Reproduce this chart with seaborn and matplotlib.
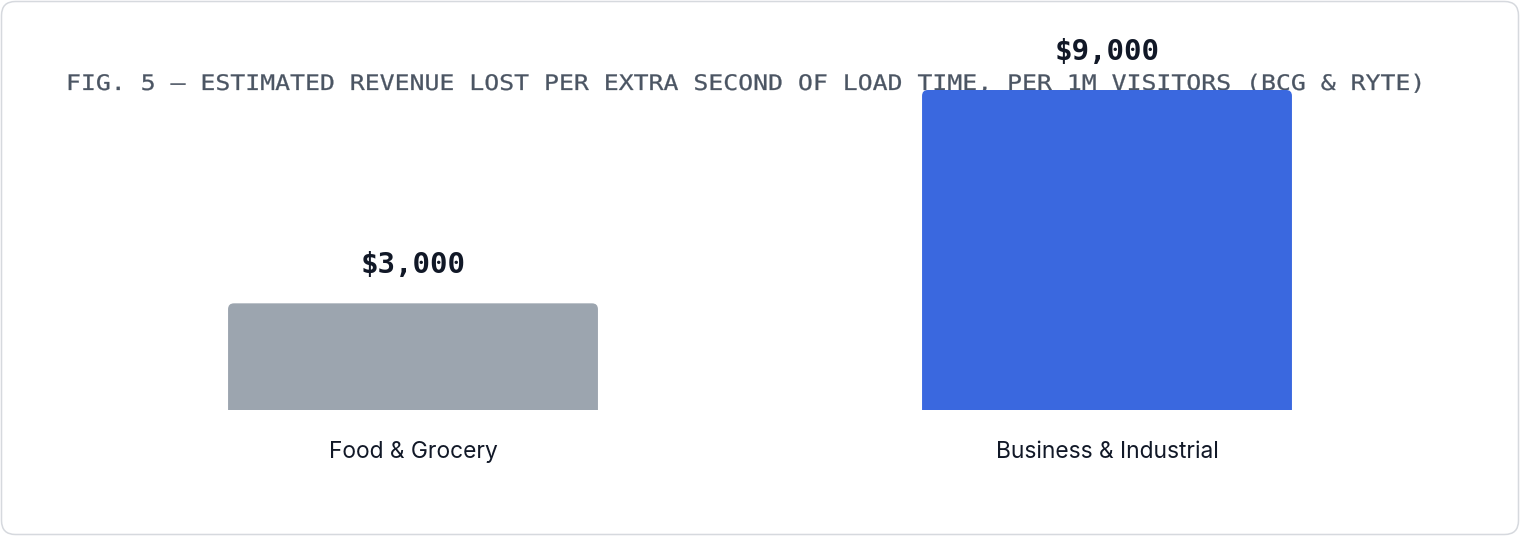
import matplotlib
matplotlib.use("Agg")
import matplotlib.pyplot as plt
import matplotlib.transforms as mtransforms
import matplotlib.patheffects as pe
from matplotlib.patches import FancyBboxPatch
import pandas as pd
import seaborn as sns

# ── Data ──────────────────────────────────────────────────────────────────────
categories = ["Food & Grocery", "Business & Industrial"]
revenue_lost = [3000, 9000]
value_labels = ["$3,000", "$9,000"]
bar_colors = ["#9ca5af", "#3a68df"]

TITLE = "FIG. 5 — ESTIMATED REVENUE LOST PER EXTRA SECOND OF LOAD TIME, PER 1M VISITORS (BCG & RYTE)"

df = pd.DataFrame({"Category": categories, "Revenue": revenue_lost})


class HStretch(pe.AbstractPathEffect):
    """Widen text horizontally around a fixed display x (fakes letter-spacing),
    with a thin stroke so the mono glyphs read a bit heavier."""

    def __init__(self, sx, x0, lw=0.2):
        super().__init__()
        self.sx = sx
        self.x0 = x0
        self.lw = lw

    def draw_path(self, renderer, gc, tpath, affine, rgbFace=None):
        aff = affine + mtransforms.Affine2D().translate(-self.x0, 0).scale(self.sx, 1).translate(self.x0, 0)
        gc0 = renderer.new_gc()
        gc0.copy_properties(gc)
        gc0.set_linewidth(self.lw)
        gc0.set_foreground(rgbFace)
        renderer.draw_path(gc0, tpath, aff, rgbFace)
        gc0.restore()


# ── Style ─────────────────────────────────────────────────────────────────────
sns.set_theme(style="white")
plt.rcParams["font.family"] = ["Inter", "DejaVu Sans"]

W, H, DPI = 1520, 536, 100
fig = plt.figure(figsize=(W / DPI, H / DPI), dpi=DPI)
fig.patch.set_facecolor("white")

# card border (pixel coords)
card = FancyBboxPatch((1.5, 1.5), W - 3, H - 3,
                      boxstyle="round,pad=0,rounding_size=14",
                      transform=mtransforms.IdentityTransform(),
                      facecolor="white", edgecolor="#d6d9de", linewidth=1.1,
                      zorder=-5)
fig.patches.append(card)

# title sits behind the bars
fig.text(66 / W, 1 - 84 / H, TITLE, ha="left", va="center",
         family=["DejaVu Sans Mono"], fontsize=15.4,
         color="#4b5563", zorder=-1,
         path_effects=[HStretch(1.16, 66)])

ax = fig.add_axes([66 / W, 126 / H, 1388 / W, 320 / H])
ax.patch.set_alpha(0)
ax.set_zorder(1)

sns.barplot(data=df, x="Category", y="Revenue", hue="Category",
            palette=bar_colors, width=0.533, saturation=1,
            legend=False, ax=ax)

ax.set_xlim(-0.5, 1.5)
ax.set_ylim(0, 9000)

# rounded top corners via clip path
for p in ax.patches:
    x, y, w, h = p.get_x(), p.get_y(), p.get_width(), p.get_height()
    aspect = (9000 / 320) / (2 / 1388)
    clip = FancyBboxPatch((x, y - 500), w, h + 500,
                          boxstyle="round,pad=0,rounding_size=0.0085",
                          mutation_aspect=aspect,
                          transform=ax.transData, facecolor="none", edgecolor="none")
    p.set_clip_path(clip)
    p.set_edgecolor("none")
    p.set_linewidth(0)

# value labels above bars
for i, (v, lab) in enumerate(zip(revenue_lost, value_labels)):
    ax.annotate(lab, xy=(i, v), xytext=(0, 27.5), textcoords="offset points",
                ha="center", va="center", fontsize=21, fontweight="bold",
                family=["DejaVu Sans Mono"], color="#111827")

ax.set_xlabel("")
ax.set_ylabel("")
ax.set_yticks([])
ax.tick_params(axis="x", length=0, pad=22, labelsize=16.4, labelcolor="#111827")
sns.despine(ax=ax, left=True, bottom=True)

fig.savefig("out.png", dpi=DPI)
